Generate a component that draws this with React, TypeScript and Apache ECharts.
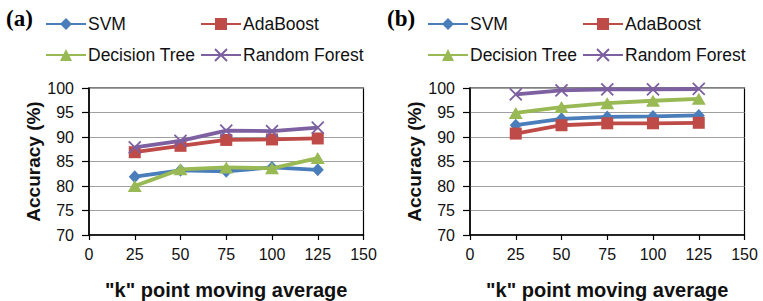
import React, { useEffect, useRef } from "react";
import * as echarts from "echarts";

const kValues = [25, 50, 75, 100, 125];
const seriesNames = ["SVM", "AdaBoost", "Decision Tree", "Random Forest"];
const svmA = [81.9, 83.2, 83.0, 83.8, 83.3];
const adaA = [86.9, 88.2, 89.4, 89.5, 89.7];
const dtA = [80.0, 83.4, 83.8, 83.6, 85.7];
const rfA = [87.9, 89.2, 91.3, 91.2, 91.9];
const svmB = [92.4, 93.7, 94.1, 94.2, 94.4];
const adaB = [90.7, 92.4, 92.8, 92.8, 92.9];
const dtB = [94.9, 96.1, 96.9, 97.4, 97.8];
const rfB = [98.7, 99.5, 99.7, 99.7, 99.8];
const xTicks = { min: 0, max: 150, interval: 25 };
const yTicks = { min: 70, max: 100, interval: 5 };
const panelLabels = ["(a)", "(b)"];

const colors = ["#4A7EBB", "#BE4B48", "#98B954", "#7D60A0"];
const symbols = [
  "diamond",
  "rect",
  "triangle",
  "path://M0,0 L10,10 M10,0 L0,10",
];
const symbolSizes: any[] = [[12, 13], [12, 12], [14, 12], [12, 12]];

const FONT = "Liberation Sans, Arial, Helvetica, sans-serif";

export default function App() {
  const ref = useRef<HTMLDivElement>(null);
  useEffect(() => {
    if (!ref.current) return;
    const chart = echarts.init(ref.current, null, { renderer: "svg" });
    const panels = [
      { left: 89, data: [svmA, adaA, dtA, rfA], legendLeft: 45, legendLeft2: 200, labelX: 6 },
      { left: 470, data: [svmB, adaB, dtB, rfB], legendLeft: 427, legendLeft2: 582, labelX: 387 },
    ];
    const grids = panels.map((p) => ({
      left: p.left,
      width: 274.5,
      top: 88,
      height: 149,
      show: true,
      borderColor: "#000",
      borderWidth: 1.2,
      backgroundColor: "transparent",
    }));
    const xAxes = panels.map((_, i) => ({
      type: "value",
      gridIndex: i,
      ...xTicks,
      name: '"k" point moving average',
      nameLocation: "middle",
      nameGap: 45,
      nameTextStyle: { fontFamily: FONT, fontWeight: "bold", fontSize: 20, color: "#111" },
      axisLine: { show: true, lineStyle: { color: "#000", width: 1.5 } },
      axisTick: { show: true, length: 5, lineStyle: { color: "#000", width: 1.2 } },
      axisLabel: { margin: 11, fontFamily: FONT, fontSize: 16, color: "#111" },
      splitLine: { show: false },
    }));
    const yAxes = panels.map((_, i) => ({
      type: "value",
      gridIndex: i,
      ...yTicks,
      name: "Accuracy (%)",
      nameLocation: "middle",
      nameGap: 46,
      nameTextStyle: { fontFamily: FONT, fontWeight: "bold", fontSize: 19, color: "#111" },
      axisLine: { show: true, lineStyle: { color: "#000", width: 1.5 } },
      axisTick: { show: true, length: 7, lineStyle: { color: "#000", width: 1.2 } },
      axisLabel: { margin: 15, fontFamily: FONT, fontSize: 16, color: "#111" },
      splitLine: { show: true, lineStyle: { color: "#A0A0A0", width: 1.2 } },
    }));
    const series: any[] = [];
    panels.forEach((p, pi) => {
      p.data.forEach((vals, si) => {
        series.push({
          type: "line",
          name: seriesNames[si],
          xAxisIndex: pi,
          yAxisIndex: pi,
          data: kValues.map((k, j) => [k, vals[j]]),
          symbol: symbols[si],
          symbolSize: symbolSizes[si],
          showAllSymbol: true,
          lineStyle: { color: colors[si], width: 3.8 },
          itemStyle: {
            color: colors[si],
            borderColor: colors[si],
            borderWidth: si === 3 ? 1.8 : 0,
          },
          z: 2 + si,
        });
      });
    });
    const legends: any[] = [];
    panels.forEach((p) => {
      const positions = [
        [p.legendLeft, 15],
        [p.legendLeft2, 15],
        [p.legendLeft, 46],
        [p.legendLeft2, 46],
      ];
      seriesNames.forEach((n, si) => {
        legends.push({
          data: [n],
          left: positions[si][0],
          top: positions[si][1],
          padding: 0,
          itemWidth: 40,
          itemHeight: 15,
          itemGap: 0,
          selectedMode: false,
          textStyle: { fontFamily: FONT, fontSize: 17.5, color: "#111", padding: [0, 0, 0, -3] },
        });
      });
    });
    chart.setOption({
      animation: false,
      grid: grids,
      xAxis: xAxes,
      yAxis: yAxes,
      series,
      legend: legends,
      graphic: panels.map((p, i) => ({
        type: "text",
        left: p.labelX,
        top: 7,
        style: {
          text: panelLabels[i],
          font: 'bold 23px "Liberation Serif", "Times New Roman", serif',
          fill: "#000",
        },
      })),
    });
    return () => chart.dispose();
  }, []);
  return (
    <div
      ref={ref}
      style={{ position: "fixed", left: 0, top: 0, width: 763, height: 301, background: "#fff" }}
    />
  );
}
